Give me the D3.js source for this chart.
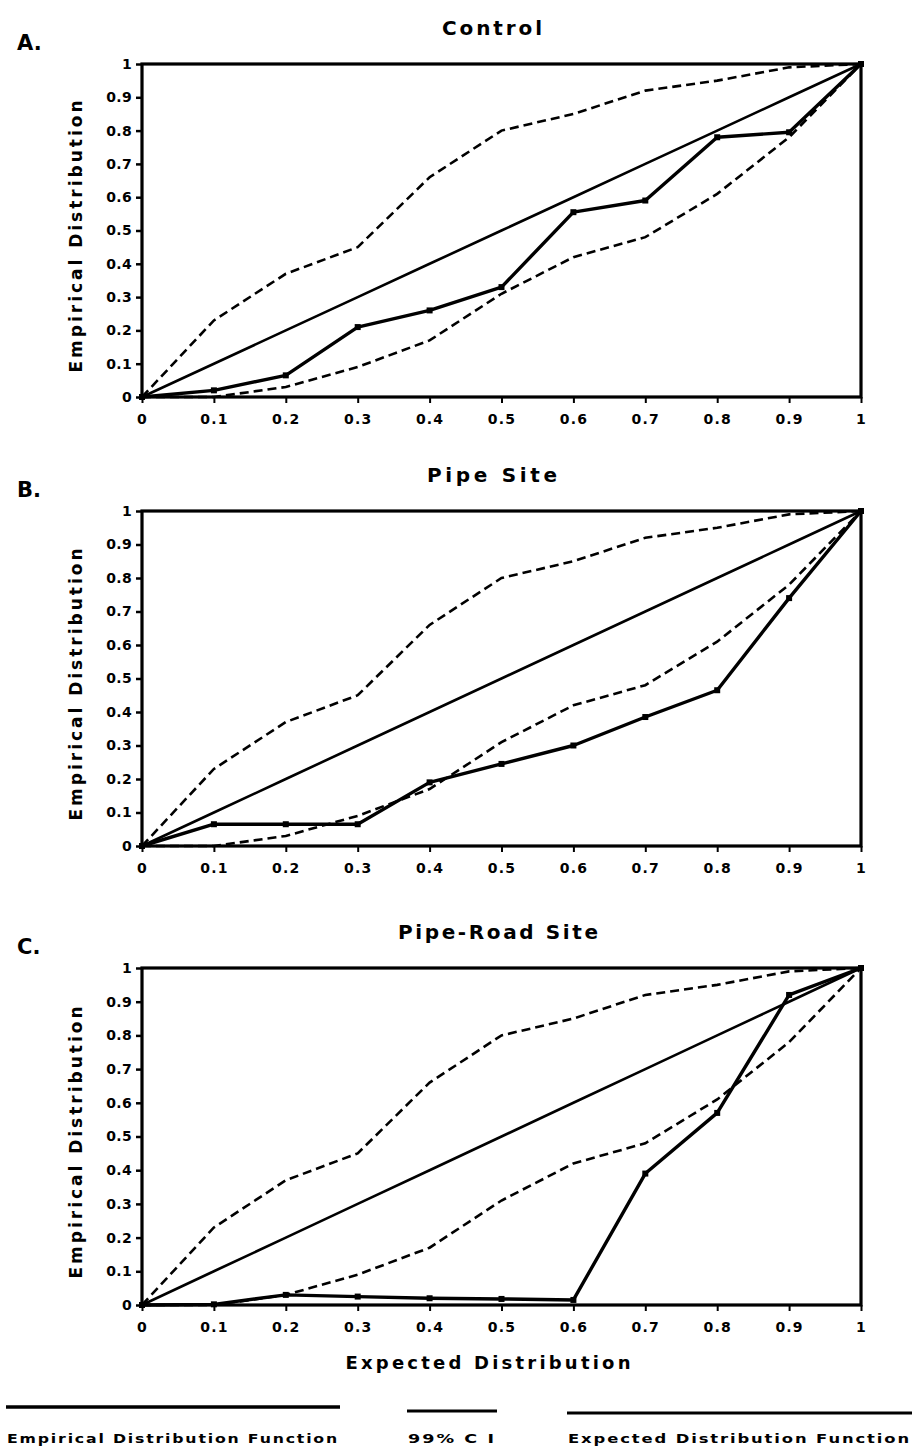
<!DOCTYPE html>
<html>
<head>
<meta charset="utf-8">
<script src="https://cdn.jsdelivr.net/npm/d3@7"></script>
<style>
  html, body { margin: 0; padding: 0; background: #fff; }
  svg { display: block; }
  text { font-family: "DejaVu Sans", "Liberation Sans", sans-serif; font-weight: bold; fill: #000; }
</style>
</head>
<body>
<svg id="chart" width="912" height="1455"></svg>
<script>
// ---------------- data ----------------
const xValues = [0, 0.1, 0.2, 0.3, 0.4, 0.5, 0.6, 0.7, 0.8, 0.9, 1];
const xTickLabels = ["0", "0.1", "0.2", "0.3", "0.4", "0.5", "0.6", "0.7", "0.8", "0.9", "1"];
const yTickValues = [0, 0.1, 0.2, 0.3, 0.4, 0.5, 0.6, 0.7, 0.8, 0.9, 1];
const yTickLabels = ["0", "0.1", "0.2", "0.3", "0.4", "0.5", "0.6", "0.7", "0.8", "0.9", "1"];

const expectedDF = [0, 0.1, 0.2, 0.3, 0.4, 0.5, 0.6, 0.7, 0.8, 0.9, 1];
const upperCI = [0, 0.23, 0.37, 0.45, 0.66, 0.80, 0.85, 0.92, 0.95, 0.99, 1];
const lowerCI = [0, 0.0, 0.03, 0.09, 0.17, 0.31, 0.42, 0.48, 0.61, 0.78, 1];

const empiricalControl = [0, 0.02, 0.065, 0.21, 0.26, 0.33, 0.555, 0.59, 0.78, 0.795, 1];
const empiricalPipe = [0, 0.065, 0.065, 0.065, 0.19, 0.245, 0.30, 0.385, 0.465, 0.74, 1];
const empiricalPipeRoad = [0, 0.002, 0.03, 0.025, 0.02, 0.018, 0.015, 0.39, 0.57, 0.92, 1];

const panelTitles = ["Control", "Pipe Site", "Pipe-Road Site"];
const panelLetters = ["A.", "B.", "C."];
const yAxisTitle = "Empirical Distribution";
const xAxisTitle = "Expected Distribution";
const legendLabels = ["Empirical Distribution Function", "99% C I", "Expected Distribution Function"];

// ---------------- layout ----------------
const svg = d3.select("#chart");
const xLeft = 142, xRight = 861;
const panels = [
  { top: 64, bottom: 397, emp: empiricalControl, titleX: 492, titleLen: 100 },
  { top: 511, bottom: 846, emp: empiricalPipe, titleX: 492, titleLen: 130 },
  { top: 968, bottom: 1305, emp: empiricalPipeRoad, titleX: 498, titleLen: 200 }
];

const x = d3.scaleLinear().domain([0, 1]).range([xLeft, xRight]);

panels.forEach((p, i) => {
  const y = d3.scaleLinear().domain([0, 1]).range([p.bottom, p.top]);
  const g = svg.append("g");

  // title
  g.append("text")
    .attr("x", p.titleX).attr("y", p.top - 29)
    .attr("text-anchor", "middle")
    .attr("font-size", 20)
    .attr("textLength", p.titleLen)
    .attr("lengthAdjust", "spacing")
    .text(panelTitles[i]);

  // panel letter
  g.append("text")
    .attr("x", 17).attr("y", p.top - 14)
    .attr("font-size", 21)
    .text(panelLetters[i]);

  // y axis label
  g.append("text")
    .attr("transform", `translate(82,${(p.top + p.bottom) / 2 + 6}) rotate(-90)`)
    .attr("text-anchor", "middle")
    .attr("font-size", 17)
    .attr("textLength", 272)
    .attr("lengthAdjust", "spacing")
    .text(yAxisTitle);

  // axes
  const yAxis = d3.axisLeft(y)
    .tickValues(yTickValues)
    .tickFormat((d, k) => yTickLabels[k])
    .tickSize(6).tickPadding(4);
  const gy = g.append("g").attr("transform", `translate(${xLeft},0)`).call(yAxis);
  gy.select(".domain").remove();
  gy.selectAll(".tick line").attr("stroke", "#000").attr("stroke-width", 2.5);
  gy.selectAll(".tick text")
    .attr("font-size", 14).attr("font-family", "DejaVu Sans").attr("font-weight", "bold")
    .attr("letter-spacing", 0.3);

  const xAxis = d3.axisBottom(x)
    .tickValues(xValues)
    .tickFormat((d, k) => xTickLabels[k])
    .tickSize(6).tickPadding(11);
  const gx = g.append("g").attr("transform", `translate(0,${p.bottom})`).call(xAxis);
  gx.select(".domain").remove();
  gx.selectAll(".tick line").attr("stroke", "#000").attr("stroke-width", 2);
  gx.selectAll(".tick text")
    .attr("font-size", 14).attr("font-family", "DejaVu Sans").attr("font-weight", "bold")
    .attr("letter-spacing", 1.2);

  // frame
  g.append("rect")
    .attr("x", x(0)).attr("y", y(1))
    .attr("width", x(1) - x(0)).attr("height", y(0) - y(1))
    .attr("fill", "none").attr("stroke", "#000").attr("stroke-width", 3.2);

  const line = d3.line().x((d, k) => x(xValues[k])).y(d => y(d));

  // CI bands (dashed)
  [upperCI, lowerCI].forEach(arr => {
    g.append("path").datum(arr)
      .attr("d", line)
      .attr("fill", "none").attr("stroke", "#000")
      .attr("stroke-width", 2.6)
      .attr("stroke-dasharray", "9,5");
  });

  // expected
  g.append("path").datum(expectedDF)
    .attr("d", line)
    .attr("fill", "none").attr("stroke", "#000").attr("stroke-width", 2.6);

  // empirical
  g.append("path").datum(p.emp)
    .attr("d", line)
    .attr("fill", "none").attr("stroke", "#000").attr("stroke-width", 3.4)
    .attr("stroke-linejoin", "round");
  g.selectAll(".pt").data(p.emp).enter().append("rect")
    .attr("x", (d, k) => x(xValues[k]) - 3)
    .attr("y", d => y(d) - 3)
    .attr("width", 6).attr("height", 6)
    .attr("fill", "#000");
});

// x axis title
svg.append("text")
  .attr("x", 488).attr("y", 1369)
  .attr("text-anchor", "middle")
  .attr("font-size", 18)
  .attr("textLength", 285)
  .attr("lengthAdjust", "spacing")
  .text(xAxisTitle);

// legend
const legendItems = [
  { x0: 6, x1: 340, w: 3.4, ly: 1407 },
  { x0: 407, x1: 497, w: 3, ly: 1411 },
  { x0: 567, x1: 912, w: 3, ly: 1413 }
];
legendItems.forEach((it, k) => {
  svg.append("line")
    .attr("x1", it.x0).attr("x2", it.x1)
    .attr("y1", it.ly).attr("y2", it.ly)
    .attr("stroke", "#000").attr("stroke-width", it.w);
  svg.append("text")
    .attr("x", (it.x0 + it.x1) / 2).attr("y", 1443)
    .attr("text-anchor", "middle")
    .attr("font-size", 13)
    .attr("letter-spacing", 1.5)
    .attr("textLength", it.x1 - it.x0 - 2)
    .attr("lengthAdjust", "spacingAndGlyphs")
    .text(legendLabels[k]);
});
</script>
</body>
</html>
